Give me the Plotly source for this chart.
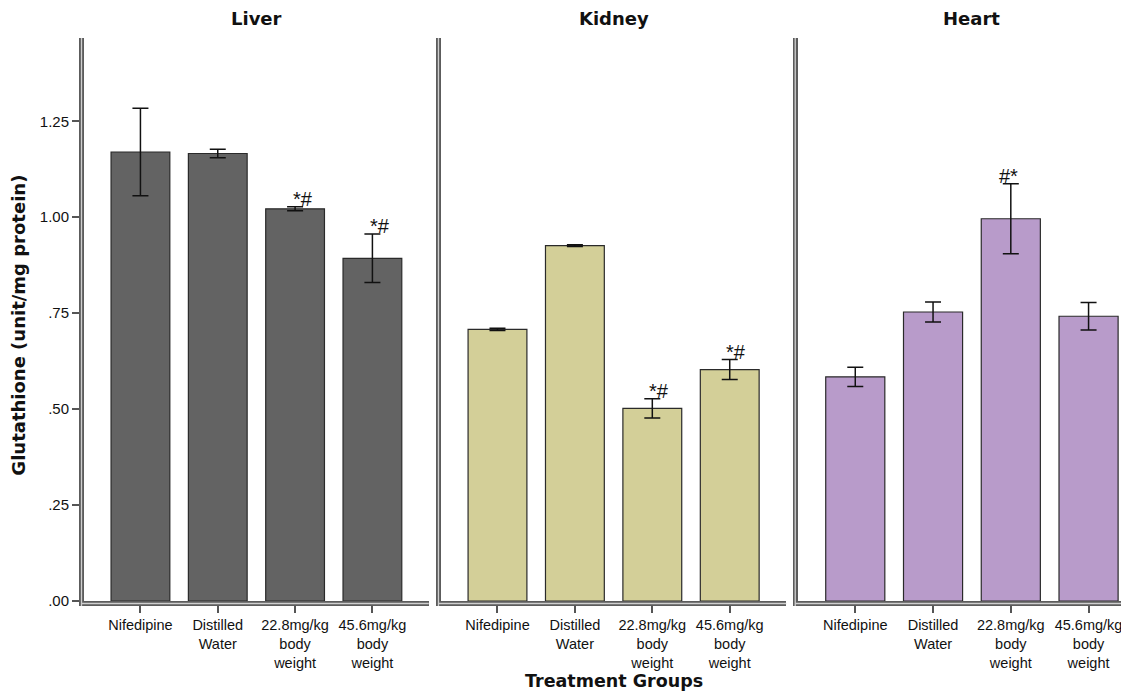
import plotly.graph_objects as go

groups = ["Nifedipine", "Distilled<br>Water", "22.8mg/kg<br>body<br>weight", "45.6mg/kg<br>body<br>weight"]
organs = ["Liver", "Kidney", "Heart"]

liver_mean = [1.170, 1.166, 1.022, 0.893]
liver_err = [0.114, 0.011, 0.005, 0.063]
kidney_mean = [0.708, 0.926, 0.502, 0.603]
kidney_err = [0.003, 0.002, 0.025, 0.026]
heart_mean = [0.584, 0.753, 0.996, 0.742]
heart_err = [0.025, 0.026, 0.091, 0.036]

liver_marks = ["", "", "*#", "*#"]
kidney_marks = ["", "", "*#", "*#"]
heart_marks = ["", "", "#*", ""]

colors = ["#636363", "#d3cf98", "#b89bca"]
y_ticks = [0, 0.25, 0.5, 0.75, 1.0, 1.25]
y_ticklabels = [".00", ".25", ".50", ".75", "1.00", "1.25"]

means = [liver_mean, kidney_mean, heart_mean]
errs = [liver_err, kidney_err, heart_err]
marks = [liver_marks, kidney_marks, heart_marks]
mark_dx = [[0, 0, 0.1, 0.1], [0, 0, 0.08, 0.08], [0, 0, -0.03, 0]]

FONT = "Liberation Sans, Arial, sans-serif"
BOLD = "DejaVu Sans, Verdana, sans-serif"
W, H = 1121, 686
ML, MR, MT, MB = 76, 0, 30, 93
PW, PH = W - ML - MR, H - MT - MB

fig = go.Figure()

domains = [[0.0, 0.330], [0.3416, 0.672], [0.683, 1.0]]
xranges = [[-0.73, 3.73], [-0.73, 3.73], [-0.74, 3.52]]
title_x = [0.165, 0.5071, 0.8495]
xi = list(range(len(groups)))
LW = 5

for k in range(3):
    sfx = "" if k == 0 else str(k + 1)
    fig.add_trace(go.Bar(
        x=xi, y=means[k],
        error_y=dict(type="data", array=errs[k], color="#111111", thickness=1.5, width=8),
        marker=dict(color=colors[k], line=dict(color="#2a2a2a", width=1.2)),
        width=0.76,
        xaxis="x" + sfx, yaxis="y" + sfx, showlegend=False,
    ))
    for i, m in enumerate(marks[k]):
        if m:
            fig.add_annotation(
                x=i + mark_dx[k][i], y=means[k][i] + errs[k][i], xref="x" + sfx, yref="y" + sfx,
                text=m, showarrow=False, yanchor="bottom", yshift=-5,
                font=dict(family=FONT, size=20, color="#111111"),
            )
    fig.update_layout(**{
        "xaxis" + sfx: dict(
            domain=domains[k], range=xranges[k], tickvals=xi, ticktext=groups,
            showline=True, linecolor="#5c5c5c", linewidth=LW, ticks="outside",
            ticklen=7, tickwidth=2, tickcolor="#555555", showgrid=False, zeroline=False,
            anchor="y" + sfx, tickfont=dict(family=FONT, size=14.5, color="#111111"),
        ),
        "yaxis" + sfx: dict(
            range=[0, 1.467], tickvals=y_ticks, ticktext=y_ticklabels,
            showticklabels=(k == 0), ticks="outside" if k == 0 else "",
            ticklen=7, tickwidth=2, tickcolor="#555555",
            showline=True, linecolor="#5c5c5c", linewidth=LW, showgrid=False, zeroline=False,
            anchor="x" + sfx, tickfont=dict(family=FONT, size=15, color="#111111"),
        ),
    })
    # inner light stripe to mimic double frame lines
    xl = domains[k][0] - (LW / 2) / PW
    fig.add_shape(type="line", xref="paper", yref="paper", x0=xl, x1=xl, y0=-LW / PH, y1=1,
                  line=dict(color="#cfcfcf", width=1.3), layer="above")
    yb = -(LW / 2) / PH
    fig.add_shape(type="line", xref="paper", yref="paper", x0=xl, x1=domains[k][1], y0=yb, y1=yb,
                  line=dict(color="#cfcfcf", width=1.3), layer="above")
    fig.add_annotation(
        x=title_x[k], y=1.0, xref="paper", yref="paper", xanchor="center",
        yanchor="bottom", yshift=7, text="<b>" + organs[k] + "</b>", showarrow=False,
        font=dict(family=BOLD, size=18, color="#111111"),
    )

fig.add_annotation(
    x=0.5071, y=0, xref="paper", yref="paper", xanchor="center", yanchor="top", yshift=-68,
    text="<b>Treatment Groups</b>", showarrow=False,
    font=dict(family=BOLD, size=17.5, color="#111111"),
)
fig.add_annotation(
    x=0, y=0.49, xref="paper", yref="paper", xanchor="right", xshift=-53,
    text="<b>Glutathione (unit/mg protein)</b>", showarrow=False, textangle=-90,
    font=dict(family=BOLD, size=18, color="#111111"),
)

fig.update_layout(
    width=W, height=H,
    margin=dict(l=ML, r=MR, t=MT, b=MB),
    plot_bgcolor="white", paper_bgcolor="white",
)

fig.write_html("out.html")
